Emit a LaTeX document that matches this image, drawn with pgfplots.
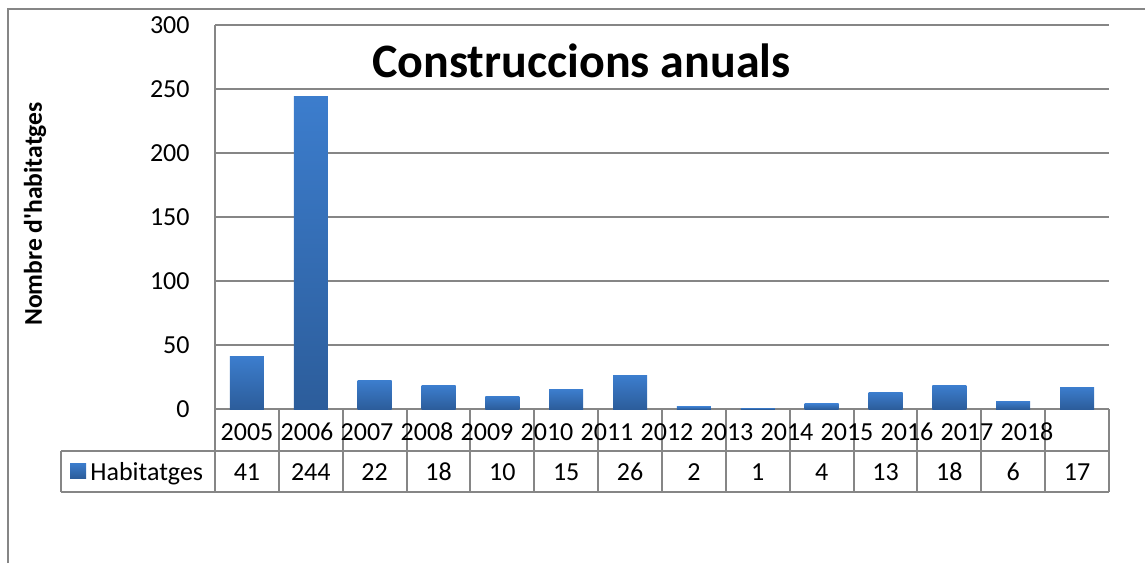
\documentclass[border=0pt]{standalone}
\usepackage{fontspec}
\setmainfont{Carlito}
\usepackage{pgfplots}
\pgfplotsset{compat=1.18}
\definecolor{gridc}{RGB}{134,134,134}
\definecolor{bartop}{RGB}{60,125,205}
\definecolor{barbot}{RGB}{44,93,155}
\pgfplotstableread{
x y
0 41
1 244
2 22
3 18
4 10
5 15
6 26
7 2
8 1
9 4
10 13
11 18
12 6
13 17
}\datatable
\begin{document}
\begin{tikzpicture}[x=1pt,y=1pt]
\useasboundingbox (0,0) rectangle (572.5,281.5);
\draw[gridc, line width=1pt] (3.75,0) -- (3.75,277) -- (572.5,277);
\begin{axis}[
  at={(107.5pt,77pt)}, anchor=south west,
  scale only axis, width=447pt, height=192pt,
  xmin=-0.5, xmax=13.5, ymin=0, ymax=300,
  ytick={0,50,...,300}, xtick=\empty,
  axis line style={draw=none},
  ymajorgrids, grid style={gridc, line width=1pt},
  major tick length=0pt,
  /pgf/number format/assume math mode=true,
  yticklabel style={font=\fontsize{13}{15}\selectfont, inner sep=0pt, anchor=east, xshift=-12.5pt},
  ylabel={Nombre d\textquotesingle habitatges},
  ylabel style={font=\fontsize{12.8}{15}\selectfont\bfseries, at={(axis description cs:-0.2013,0.5078)}, anchor=center},
  title={Construccions anuals},
  title style={font=\fontsize{24}{28}\selectfont\bfseries, at={(axis description cs:0.41,0.831)}, anchor=base},
  clip=false,
]
\pgfplotsinvokeforeach{0,...,13}{
  \addplot[ybar, bar width=17pt, draw=none, top color=bartop, bottom color=barbot,
    restrict x to domain=#1:#1] table[x=x,y=y]{\datatable};
}
\end{axis}
% data table grid
\draw[gridc, line width=1pt] (107.5,269) -- (107.5,35.5);
\foreach \i in {1,...,14} {
  \draw[gridc, line width=1pt] ({107.5+31.92857*\i},77) -- ({107.5+31.92857*\i},35.5);
}
\draw[gridc, line width=1pt] (30.5,56) -- (554.5,56);
\draw[gridc, line width=1pt] (30.5,35.5) -- (554.5,35.5);
\draw[gridc, line width=1pt] (30.5,56) -- (30.5,35.5);
\foreach \lab [count=\i from 0] in {2005,2006,2007,2008,2009,2010,2011,2012,2013,2014,2015,2016,2017,2018} {
  \node[anchor=base, inner sep=0pt, font=\fontsize{13}{15}\selectfont] at ({123.5+30*\i},61.5) {\lab};
}
\foreach \v [count=\i from 0] in {41,244,22,18,10,15,26,2,1,4,13,18,6,17} {
  \node[anchor=base, inner sep=0pt, font=\fontsize{13}{15}\selectfont] at ({107.5+31.92857*(\i+0.5)},41.5) {\v};
}
\fill[top color=bartop, bottom color=barbot] (35,42.5) rectangle (43,50);
\node[anchor=base west, inner sep=0pt, font=\fontsize{13}{15}\selectfont] at (45,41.5) {Habitatges};
\end{tikzpicture}
\end{document}
